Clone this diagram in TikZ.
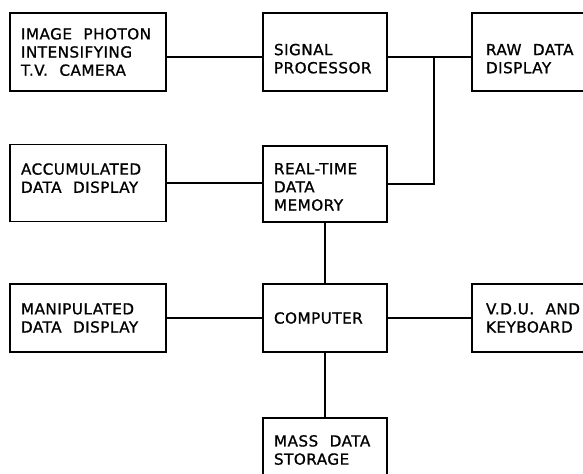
\documentclass[tikz,border=0pt]{standalone}
\usepackage{fontspec}
\newfontfamily\lettering{DejaVu Sans}[LetterSpace=3,FakeBold=1]
\newcommand\boxfont{\lettering\fontsize{13}{15.5}\selectfont}

\begin{document}
\begin{tikzpicture}[x=0.03cm, y=-0.03cm,
    blk/.style={draw, line width=1.3pt, align=left, inner xsep=0.33cm, inner ysep=0pt,
      font=\boxfont, execute at begin node={\spaceskip=0.75em\relax}},
    lcol/.style={text width=4.02cm},
    mcol/.style={text width=3.06cm},
    rcol/.style={text width=3.0cm, inner xsep=0.42cm},
    low/.style={execute at begin node={\rule{0pt}{#1}}},
    high/.style={execute at end node={\rule[-#1]{0pt}{0pt}}},
    wire/.style={line width=1.3pt}]
    \useasboundingbox (0,0) rectangle (583,474);
    \clip (0,0) rectangle (583,474);
    % Top row
    \node[blk,lcol,minimum height=2.34cm] (cam) at (88,52) {IMAGE PHOTON\\INTENSIFYING\\T.V. CAMERA};
    \node[blk,mcol,minimum height=2.34cm,low=21pt] (sig) at (325,52) {SIGNAL\\PROCESSOR};
    \node[blk,rcol,minimum height=2.34cm,low=21pt] (raw) at (536,52) {RAW DATA\\DISPLAY};
    % Second row
    \node[blk,lcol,minimum height=2.31cm,high=8.5pt] (acc) at (88,183) {ACCUMULATED\\DATA DISPLAY};
    \node[blk,mcol,minimum height=2.28cm,low=14.5pt] (rtm) at (325,184) {REAL-TIME\\DATA\\MEMORY};
    % Third row
    \node[blk,lcol,minimum height=2.04cm] (man) at (88,318) {MANIPULATED\\DATA DISPLAY};
    \node[blk,mcol,minimum height=2.04cm] (cmp) at (325,318) {COMPUTER};
    \node[blk,rcol,minimum height=2.04cm] (vdu) at (536,318) {V.D.U. AND\\KEYBOARD};
    % Storage (runs off the bottom edge)
    \node[blk,mcol,minimum height=1.92cm] (mass) at (325,450) {MASS DATA\\STORAGE};
    % Links
    \coordinate (bus) at (0,57);
    \coordinate (tap) at (434,57);
    \draw[wire] (cam.east |- bus) -- (sig.west |- bus);
    \draw[wire] (sig.east |- bus) -- (raw.west |- bus);
    \draw[wire] (tap) |- (rtm);
    \draw[wire] (acc) -- (rtm.west |- acc);
    \draw[wire] (rtm) -- (cmp);
    \draw[wire] (man) -- (cmp);
    \draw[wire] (cmp) -- (vdu);
    \draw[wire] (cmp) -- (mass);
\end{tikzpicture}
\end{document}
